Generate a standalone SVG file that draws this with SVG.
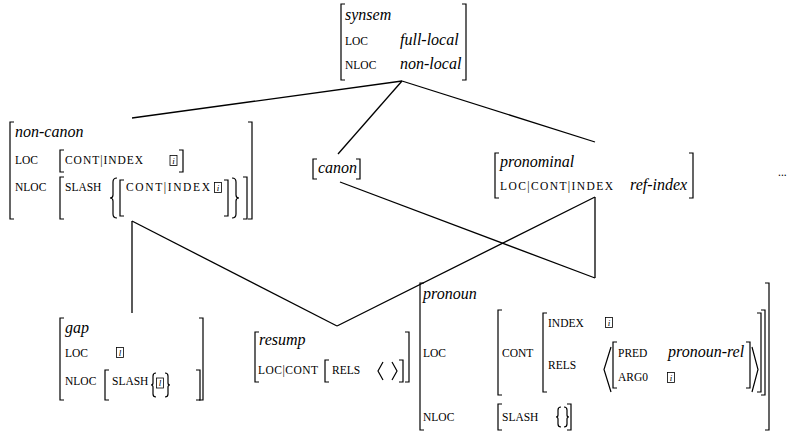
<svg xmlns="http://www.w3.org/2000/svg" width="792" height="432" viewBox="0 0 792 432">
<style>
.sc{font-family:"Liberation Serif","DejaVu Serif","Times New Roman",serif;font-size:11.5px;fill:#000}
.it{font-family:"Liberation Serif","DejaVu Serif","Times New Roman",serif;font-size:16px;font-style:italic;fill:#000}
.tg{font-family:"Liberation Serif","DejaVu Serif","Times New Roman",serif;font-size:9px;font-style:italic;fill:#000;text-anchor:middle}
.br{fill:none;stroke:#000;stroke-width:1.2}
.bx{fill:none;stroke:#000;stroke-width:0.8}
.ln{fill:none;stroke:#000;stroke-width:1.3}
</style>
<rect width="792" height="432" fill="#fff"/>
<g id="connectors">
<line class="ln" x1="402" y1="81" x2="132" y2="118"/>
<line class="ln" x1="402" y1="81" x2="338" y2="154"/>
<line class="ln" x1="402" y1="81" x2="595" y2="142"/>
<line class="ln" x1="132" y1="221" x2="132" y2="313"/>
<line class="ln" x1="132" y1="221" x2="337" y2="326"/>
<line class="ln" x1="337" y1="326" x2="595" y2="197"/>
<line class="ln" x1="595" y1="197" x2="595" y2="278"/>
<line class="ln" x1="340" y1="182" x2="595" y2="278"/>
</g>
<g id="synsem">
<path class="br" d="M345 4H341V80H345"/>
<path class="br" d="M462 4H466V80H462"/>
<text class="it" x="345" y="20">synsem</text>
<text class="sc" x="345" y="45">LOC</text>
<text class="it" x="400" y="45">full-local</text>
<text class="sc" x="345" y="69">NLOC</text>
<text class="it" x="400" y="69">non-local</text>
</g>
<g id="non-canon">
<path class="br" d="M14 122H10V219H14"/>
<path class="br" d="M248 122H252V219H248"/>
<text class="it" x="15" y="137">non-canon</text>
<text class="sc" x="15" y="164">LOC</text>
<path class="br" d="M64 150H60V172H64"/>
<text class="sc" x="65" y="164" textLength="78" lengthAdjust="spacing">CONT|INDEX</text>
<rect class="bx" x="170" y="155.5" width="7" height="10"/>
<text class="tg" x="173.5" y="163.5">i</text>
<path class="br" d="M179 150H183V172H179"/>
<text class="sc" x="15" y="191">NLOC</text>
<path class="br" d="M64 177H60V219H64"/>
<text class="sc" x="65" y="191">SLASH</text>
<path class="br" d="M117 178Q113 178 113 182V195Q113 198 110 198Q113 198 113 201V214Q113 218 117 218"/>
<path class="br" d="M124 180H120V216H124"/>
<text class="sc" x="126" y="191" textLength="84" lengthAdjust="spacing">CONT|INDEX</text>
<rect class="bx" x="214.5" y="182.5" width="7" height="10"/>
<text class="tg" x="218" y="190.5">i</text>
<path class="br" d="M224 180H228V216H224"/>
<path class="br" d="M232 178Q236 178 236 182V195Q236 198 239 198Q236 198 236 201V214Q236 218 232 218"/>
<path class="br" d="M243 177H247V219H243"/>
</g>
<g id="canon">
<path class="br" d="M317 159H313V179H317"/>
<text class="it" x="318" y="173">canon</text>
<path class="br" d="M356 159H360V179H356"/>
</g>
<g id="pronominal">
<path class="br" d="M499 153H495V198H499"/>
<text class="it" x="500" y="167">pronominal</text>
<text class="sc" x="500" y="190" textLength="113" lengthAdjust="spacing">LOC|CONT|INDEX</text>
<text class="it" x="630" y="190">ref-index</text>
<path class="br" d="M689 153H693V198H689"/>
</g>
<g id="ellipsis">
<text class="sc" x="778" y="176">...</text>
</g>
<g id="gap">
<path class="br" d="M64 318H60V400H64"/>
<path class="br" d="M199 318H203V400H199"/>
<text class="it" x="65" y="333">gap</text>
<text class="sc" x="65" y="357">LOC</text>
<rect class="bx" x="116.5" y="347.5" width="7" height="10"/>
<text class="tg" x="120" y="355.5">l</text>
<text class="sc" x="65" y="385">NLOC</text>
<path class="br" d="M109 370H105V400H109"/>
<text class="sc" x="112" y="385">SLASH</text>
<path class="br" d="M156 373Q153 373 153 376V383Q153 385 151 385Q153 385 153 387V394Q153 397 156 397"/>
<rect class="bx" x="156.5" y="378" width="7" height="10"/>
<text class="tg" x="160" y="386">l</text>
<path class="br" d="M165 373Q168 373 168 376V383Q168 385 170 385Q168 385 168 387V394Q168 397 165 397"/>
<path class="br" d="M196 370H200V400H196"/>
</g>
<g id="resump">
<path class="br" d="M259 332H255V382H259"/>
<path class="br" d="M405 332H409V382H405"/>
<text class="it" x="259" y="345">resump</text>
<text class="sc" x="258" y="374" textLength="60" lengthAdjust="spacing">LOC|CONT</text>
<path class="br" d="M329 360H325V382H329"/>
<text class="sc" x="332" y="374">RELS</text>
<path class="br" d="M383 362L378 371L383 380"/>
<path class="br" d="M392 362L397 371L392 380"/>
<path class="br" d="M399 360H403V382H399"/>
</g>
<g id="pronoun">
<path class="br" d="M424 283H420V430H424"/>
<path class="br" d="M765 283H769V430H765"/>
<text class="it" x="423" y="299">pronoun</text>
<text class="sc" x="423" y="357">LOC</text>
<path class="br" d="M502 310H498V395H502"/>
<text class="sc" x="502" y="357">CONT</text>
<path class="br" d="M547 313H543V392H547"/>
<text class="sc" x="548" y="327">INDEX</text>
<rect class="bx" x="605.5" y="317.5" width="7" height="10"/>
<text class="tg" x="609" y="325.5">i</text>
<text class="sc" x="548" y="369">RELS</text>
<path class="br" d="M611 347L604 369.5L611 392"/>
<path class="br" d="M617 342H613V388H617"/>
<text class="sc" x="618" y="357">PRED</text>
<text class="it" x="668" y="357">pronoun-rel</text>
<text class="sc" x="618" y="381">ARG0</text>
<rect class="bx" x="667.5" y="372.5" width="7" height="10"/>
<text class="tg" x="671" y="380.5">i</text>
<path class="br" d="M746 342H750V388H746"/>
<path class="br" d="M752 347L758 369.5L752 392"/>
<path class="br" d="M757 313H761V392H757"/>
<path class="br" d="M761 310H765V395H761"/>
<text class="sc" x="423" y="421">NLOC</text>
<path class="br" d="M502 404H498V430H502"/>
<text class="sc" x="502" y="421">SLASH</text>
<path class="br" d="M561 407Q558 407 558 410V415Q558 417 556 417Q558 417 558 419V424Q558 427 561 427"/>
<path class="br" d="M564 407Q567 407 567 410V415Q567 417 569 417Q567 417 567 419V424Q567 427 564 427"/>
<path class="br" d="M567 404H571V430H567"/>
</g>
</svg>
